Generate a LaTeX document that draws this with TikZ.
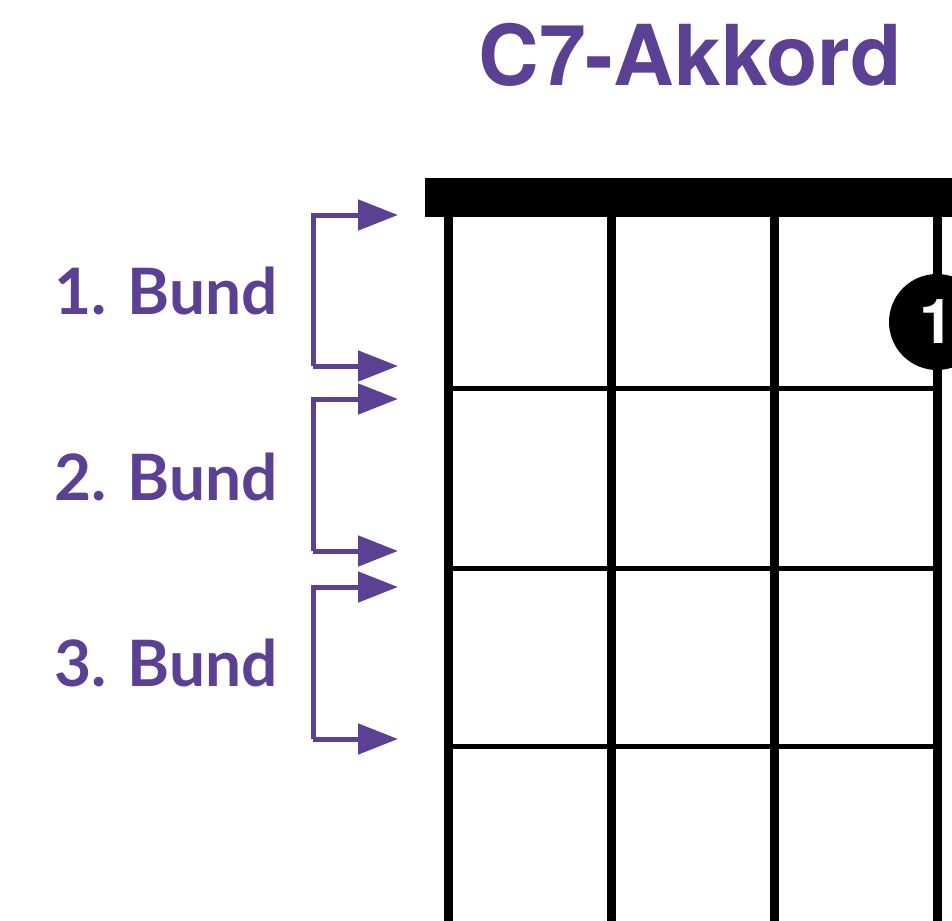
\documentclass[tikz,border=0pt]{standalone}
\usepackage{fontspec}
\setmainfont{TeX Gyre Heros}
\newfontfamily\labelfont{Lato}
\usetikzlibrary{arrows.meta}
\definecolor{akkpurple}{RGB}{92,64,148}
\tikzset{
  stringline/.style={line width=9pt},
  fretline/.style={line width=5pt},
  bracketline/.style={akkpurple, line width=5pt, -{Triangle[length=40pt,width=30pt]}},
  fretlabel/.style={text=akkpurple, font=\labelfont\bfseries\fontsize{64}{64}\selectfont, anchor=center},
}
\begin{document}
\begin{tikzpicture}[x=1pt,y=-1pt]
\useasboundingbox (0,0) rectangle (952,920);
\clip (0,0) rectangle (952,920);
% title
\node[text=akkpurple, font=\bfseries\fontsize{84}{84}\selectfont] (title) at (690,55) {C7-Akkord};
% nut
\fill (425,178) rectangle (990,217);
% strings
\foreach \x/\n in {448/s1,611/s2,774/s3,937/s4}{
  \coordinate (\n top) at (\x,210);
  \coordinate (\n bot) at (\x,925);
  \draw[stringline] (\n top) -- (\n bot);
}
% frets
\foreach \y/\n in {388/f1,568/f2,746/f3}{
  \coordinate (\n l) at (448,\y);
  \coordinate (\n r) at (937,\y);
  \draw[fretline] (\n l) -- (\n r);
}
% finger
\node[circle, fill=black, minimum size=96pt, inner sep=0pt, text=white,
      font=\bfseries\fontsize{62}{62}\selectfont] (finger) at (937,322) {1};
% brackets
\coordinate (b1t) at (398,215); \coordinate (b1b) at (398,366);
\coordinate (b2t) at (398,399); \coordinate (b2b) at (398,551);
\coordinate (b3t) at (398,587); \coordinate (b3b) at (398,739);
\draw[bracketline] (313,366) -- (b1b);
\draw[bracketline] (313,366) -- (313,215) -- (b1t);
\draw[bracketline] (313,551) -- (313,399) -- (b2t);
\draw[bracketline] (313,551) -- (b2b);
\draw[bracketline] (313,739) -- (313,587) -- (b3t);
\draw[bracketline] (313,739) -- (b3b);
% labels
\node[fretlabel] (l1) at (166,291) {1. Bund};
\node[fretlabel] (l2) at (166,477) {2. Bund};
\node[fretlabel] (l3) at (166,663) {3. Bund};
\end{tikzpicture}
\end{document}
